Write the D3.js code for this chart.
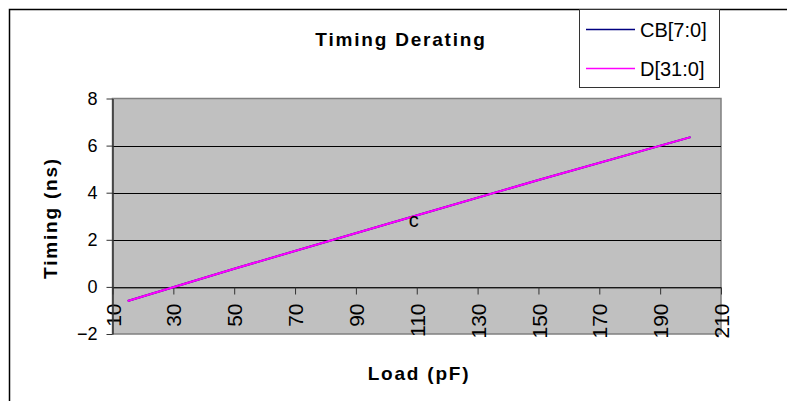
<!DOCTYPE html>
<html lang="en">
<head>
	<meta charset="UTF-8">
	<title>Timing Derating</title>
	<script src="https://d3js.org/d3.v7.min.js"></script>
	<style>
		body {
			margin: 0;
			background-color: #ffffff;
		}
		text {
			font-family: "Liberation Sans", Arial, sans-serif;
			fill: #000;
		}
		.title, .axis-title {
			font-weight: bold;
			font-size: 19px;
			letter-spacing: 1.8px;
		}
		.axis--y text { font-size: 18px; }
		.axis--x text { font-size: 21px; }
		.axis path, .axis line { stroke: #333; }
		.grid { stroke: #000; stroke-width: 1; }
		.legend text { font-size: 20px; }
	</style>
</head>
<body>
<script type="text/javascript">
	// values
	var loads = [15, 50, 100, 150, 200];           // pF
	var cbTiming = [-0.6, 0.77, 2.66, 4.54, 6.36]; // ns
	var dTiming = [-0.6, 0.77, 2.66, 4.54, 6.36];  // ns
	var seriesNames = ['CB[7:0]', 'D[31:0]'];
	var seriesColors = ['#000080', '#ff00ff'];
	var xTicks = [10, 30, 50, 70, 90, 110, 130, 150, 170, 190, 210];
	var yTicks = [-2, 0, 2, 4, 6, 8];
	var gridValues = [0, 2, 4, 6];
	var noteLoad = 109, noteTiming = 2.55, noteText = 'c';

	var width = 787, height = 401;
	var plot = {left: 112.5, right: 721, top: 98.5, bottom: 334};

	var svg = d3.select('body').append('svg')
		.attr('width', width)
		.attr('height', height);

	// chart frame
	svg.append('rect')
		.attr('x', 9.5).attr('y', 9.5)
		.attr('width', 820).attr('height', 420)
		.attr('fill', '#fff')
		.attr('stroke', '#000')
		.attr('stroke-width', 1.5);

	var x = d3.scaleLinear().domain([10, 210]).range([plot.left, plot.right]);
	var y = d3.scaleLinear().domain([-2, 8]).range([plot.bottom, plot.top]);

	// plot area
	svg.append('rect')
		.attr('x', plot.left).attr('y', plot.top)
		.attr('width', plot.right - plot.left)
		.attr('height', plot.bottom - plot.top)
		.attr('fill', '#c0c0c0')
		.attr('stroke', '#808080')
		.attr('stroke-width', 1.5);

	svg.selectAll('.grid')
		.data(gridValues)
		.enter().append('line')
		.attr('class', 'grid')
		.attr('x1', plot.left).attr('x2', plot.right)
		.attr('y1', function (d) { return Math.round(y(d)) + 0.5; })
		.attr('y2', function (d) { return Math.round(y(d)) + 0.5; });

	// axes
	var xAxis = svg.append('g')
		.attr('class', 'axis axis--x')
		.attr('transform', 'translate(0,' + (Math.round(y(0)) + 0.5) + ')')
		.call(d3.axisBottom(x).tickValues(xTicks).tickSize(7).tickSizeOuter(0).tickFormat(d3.format('d')));
	xAxis.select('.domain').attr('stroke', '#000');
	xAxis.selectAll('text')
		.attr('transform', 'rotate(-90)')
		.attr('x', -16)
		.attr('y', 0)
		.attr('dy', '0.36em')
		.style('text-anchor', 'end');

	var yAxis = svg.append('g')
		.attr('class', 'axis axis--y')
		.attr('transform', 'translate(' + plot.left + ',0)')
		.call(d3.axisLeft(y).tickValues(yTicks).tickSize(6).tickSizeOuter(0).tickPadding(9));
	yAxis.select('.domain').attr('stroke-width', 1.5);

	// series
	var line = d3.line()
		.x(function (d) { return x(d[0]); })
		.y(function (d) { return y(d[1]); });

	var series = [cbTiming, dTiming];
	series.forEach(function (vals, i) {
		svg.append('path')
			.datum(loads.map(function (l, j) { return [l, vals[j]]; }))
			.attr('fill', 'none')
			.attr('stroke', seriesColors[i])
			.attr('stroke-width', 2)
			.attr('d', line);
	});

	svg.append('text')
		.attr('x', x(noteLoad))
		.attr('y', y(noteTiming))
		.attr('text-anchor', 'middle')
		.style('font-size', '20px')
		.text(noteText);

	// titles
	svg.append('text')
		.attr('class', 'title')
		.attr('x', 401).attr('y', 46)
		.attr('text-anchor', 'middle')
		.text('Timing Derating');

	svg.append('text')
		.attr('class', 'axis-title')
		.attr('transform', 'translate(56.5,218) rotate(-90)')
		.attr('text-anchor', 'middle')
		.text('Timing (ns)');

	svg.append('text')
		.attr('class', 'axis-title')
		.attr('x', 419).attr('y', 380)
		.attr('text-anchor', 'middle')
		.text('Load (pF)');

	// legend
	var legend = svg.append('g').attr('class', 'legend');
	legend.append('rect')
		.attr('x', 579.5).attr('y', 9.5)
		.attr('width', 140).attr('height', 78)
		.attr('fill', '#fff')
		.attr('stroke', '#333')
		.attr('stroke-width', 1);

	var legendY = d3.scalePoint().domain(seriesNames).range([29.5, 68.5]);
	seriesNames.forEach(function (name, i) {
		legend.append('line')
			.attr('x1', 586).attr('x2', 635)
			.attr('y1', legendY(name)).attr('y2', legendY(name))
			.attr('stroke', seriesColors[i])
			.attr('stroke-width', 1.5);
		legend.append('text')
			.attr('x', 640)
			.attr('y', legendY(name))
			.attr('dy', '0.36em')
			.text(name);
	});
</script>
</body>
</html>
